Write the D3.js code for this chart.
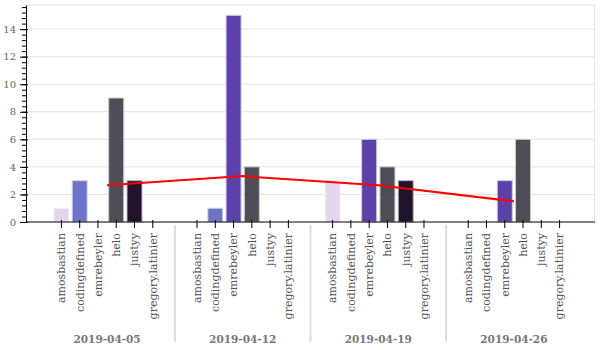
<!DOCTYPE html>
<html>
<head>
<meta charset="utf-8">
<script src="https://cdn.jsdelivr.net/npm/d3@7"></script>
<style>
  body { margin: 0; background: #fff; }
  svg text { font-family: "DejaVu Serif", serif; }
</style>
</head>
<body>
<div id="chart"></div>
<script>
const weeks = ["2019-04-05", "2019-04-12", "2019-04-19", "2019-04-26"];
const authors = ["amosbastian", "codingdefined", "emrebeyler", "helo", "justyy", "gregory.latinier"];
// one row per week, one value per author
const counts_0405 = [1, 3, 0, 9, 3, 0];
const counts_0412 = [0, 1, 15, 4, 0, 0];
const counts_0419 = [3, 0, 6, 4, 3, 0];
const counts_0426 = [0, 0, 3, 6, 0, 0];
const averages = [2.67, 3.33, 2.67, 1.5];
const yTicks = [0, 2, 4, 6, 8, 10, 12, 14];
const authorColors = ["#e3d5ee", "#6e74c5", "#5c41a8", "#4f4c56", "#21132a", "#9a8fb5"];

const rows = [counts_0405, counts_0412, counts_0419, counts_0426];

const width = 600, height = 350;
const margin = {top: 5, right: 5, bottom: 128, left: 26};
const w = width - margin.left - margin.right,
      h = height - margin.top - margin.bottom;

const svg = d3.select("#chart").append("svg")
    .attr("width", width)
    .attr("height", height);
const g = svg.append("g")
    .attr("transform", "translate(" + margin.left + "," + margin.top + ")");

const x0 = d3.scaleBand().domain(weeks).range([0, w])
    .paddingInner(0).paddingOuter(0.098);
const x1 = d3.scaleBand().domain(authors).range([0, x0.bandwidth()])
    .paddingInner(0.18).paddingOuter(0.8);
const y = d3.scaleLinear().domain([0, 15.75]).range([h, 0]);

// grid
g.append("g").selectAll("line")
    .data(yTicks.slice(1).concat([15.75]))
    .enter().append("line")
    .attr("x1", 0).attr("x2", w)
    .attr("y1", d => y(d)).attr("y2", d => y(d))
    .attr("stroke", "#e3e3e3");
g.append("line")
    .attr("x1", w - 0.5).attr("x2", w - 0.5)
    .attr("y1", 0).attr("y2", h)
    .attr("stroke", "#e3e3e3");

// bars
const groups = g.selectAll(".week")
    .data(rows)
    .enter().append("g")
    .attr("class", "week")
    .attr("transform", (d, i) => "translate(" + x0(weeks[i]) + ",0)");

groups.selectAll("rect")
    .data(d => d.map((v, j) => ({author: authors[j], value: v, color: authorColors[j]})))
    .enter().append("rect")
    .filter(d => d.value > 0)
    .attr("x", d => x1(d.author))
    .attr("width", x1.bandwidth())
    .attr("y", d => y(d.value))
    .attr("height", d => h - y(d.value))
    .attr("fill", d => d.color)
    .attr("stroke", d => d3.interpolateRgb(d.color, "#fff")(0.7))
    .attr("stroke-width", 1);

// average line
const line = d3.line()
    .x((d, i) => x0(weeks[i]) + x0.bandwidth() / 2)
    .y(d => y(d));
g.append("path")
    .datum(averages)
    .attr("d", line)
    .attr("fill", "none")
    .attr("stroke", "#ff0000")
    .attr("stroke-width", 2);

// y axis: minor then major
const minor = d3.range(0, 15.7, 0.4);
g.append("g")
    .call(d3.axisLeft(y).tickValues(minor).tickSize(4).tickFormat(""))
    .call(s => s.select(".domain").remove());
const yAxis = g.append("g")
    .call(d3.axisLeft(y).tickValues(yTicks).tickSize(6).tickSizeOuter(0).tickPadding(4));
yAxis.selectAll(".tick line").attr("x2", 2).attr("x1", -6);
yAxis.selectAll("text").attr("fill", "#666").style("font-size", "10px");

// x axis baseline
g.append("line")
    .attr("x1", 0).attr("x2", w)
    .attr("y1", h).attr("y2", h)
    .attr("stroke", "#000");

// author ticks and labels per week
weeks.forEach(function (wk) {
    const gx = g.append("g").attr("transform", "translate(" + x0(wk) + "," + h + ")");
    const ticks = gx.selectAll(".t")
        .data(authors)
        .enter().append("g")
        .attr("transform", d => "translate(" + (x1(d) + x1.bandwidth() / 2) + ",0)");
    ticks.append("line")
        .attr("y1", -2).attr("y2", 6)
        .attr("stroke", "#000");
    ticks.append("text")
        .attr("transform", "rotate(-90)")
        .attr("x", -11)
        .attr("dy", "0.35em")
        .attr("text-anchor", "end")
        .attr("fill", "#555")
        .style("font-size", "11px")
        .text(d => d);
    gx.append("text")
        .attr("x", x0.bandwidth() / 2)
        .attr("y", 120.5)
        .attr("text-anchor", "middle")
        .attr("fill", "#777")
        .style("font-size", "10.5px")
        .style("font-weight", "bold")
        .text(wk);
});

// separators between weeks
g.append("g").selectAll("line")
    .data(weeks.slice(1))
    .enter().append("line")
    .attr("x1", d => x0(d)).attr("x2", d => x0(d))
    .attr("y1", h + 3).attr("y2", h + 120)
    .attr("stroke", "#ddd")
    .attr("stroke-width", 2);
</script>
</body>
</html>
